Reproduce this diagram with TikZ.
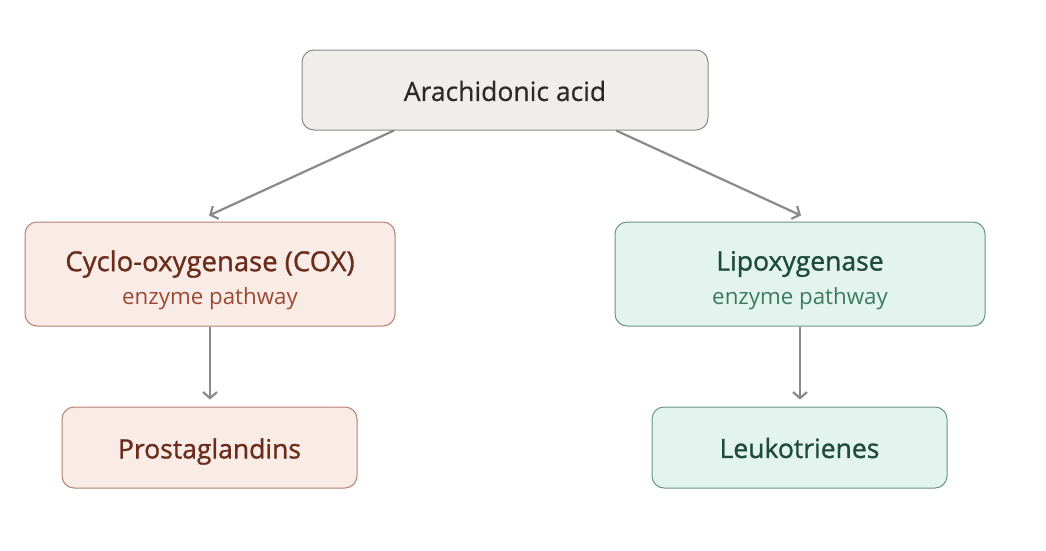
\documentclass[tikz,border=0pt]{standalone}
\usepackage{fontspec}
\setmainfont{Open Sans}
\usetikzlibrary{arrows.meta,calc}
\definecolor{topfill}{HTML}{EFEEEA}
\definecolor{topdraw}{HTML}{8A8A86}
\definecolor{toptext}{HTML}{2A2A28}
\definecolor{coxfill}{HTML}{F9ECE7}
\definecolor{coxdraw}{HTML}{B5806F}
\definecolor{coxtext}{HTML}{6A2D1B}
\definecolor{coxsub}{HTML}{9A4A32}
\definecolor{loxfill}{HTML}{E3F4EE}
\definecolor{loxdraw}{HTML}{6A9582}
\definecolor{loxtext}{HTML}{1E4B3B}
\definecolor{loxsub}{HTML}{3D7A62}
\definecolor{arrowgray}{HTML}{8A8A8A}
\tikzset{
  box/.style={rounded corners=12pt, line width=1pt, inner sep=0pt},
  conn/.style={arrowgray, line width=2.2pt, -{Straight Barb[length=6pt,width=14pt,line width=2.2pt]}},
  headtxt/.style={inner sep=0pt, font=\fontsize{26.5}{32}\selectfont\addfontfeature{FakeBold=1.1}},
  subtxt/.style={inner sep=0pt, font=\fontsize{22.3}{28}\selectfont},
}
\begin{document}
\begin{tikzpicture}[x=1pt,y=-1pt]
\useasboundingbox (0,0) rectangle (1046,550);
% top
\node[box, fill=topfill, draw=topdraw, minimum width=406pt, minimum height=80pt] (top) at (505,90) {};
\node[headtxt, text=toptext, font=\fontsize{26.5}{32}\selectfont\addfontfeature{FakeBold=0.6}] (toplbl) at ($(top.center)+(0,1)$) {Arachidonic acid};
% COX
\node[box, fill=coxfill, draw=coxdraw, minimum width=370pt, minimum height=104pt] (cox) at (210,274) {};
\node[headtxt, text=coxtext, font=\fontsize{27.5}{32}\selectfont\addfontfeature{FakeBold=1.1}] (coxlbl) at ($(cox.center)+(0,-10)$) {Cyclo-oxygenase (COX)};
\node[subtxt, text=coxsub] (coxsublbl) at ($(cox.center)+(0,25)$) {enzyme pathway};
% LOX
\node[box, fill=loxfill, draw=loxdraw, minimum width=370pt, minimum height=104pt] (lox) at (800,274) {};
\node[headtxt, text=loxtext] (loxlbl) at ($(lox.center)+(0,-10)$) {Lipoxygenase};
\node[subtxt, text=loxsub] (loxsublbl) at ($(lox.center)+(0,25)$) {enzyme pathway};
% products
\node[box, fill=coxfill, draw=coxdraw, minimum width=295pt, minimum height=81pt] (pg) at (209.5,447.5) {};
\node[headtxt, text=coxtext] (pglbl) at ($(pg.center)+(0,4)$) {Prostaglandins};
\node[box, fill=loxfill, draw=loxdraw, minimum width=295pt, minimum height=81pt] (lt) at (799.5,447.5) {};
\node[headtxt, text=loxtext] (ltlbl) at ($(lt.center)+(0,0.5)$) {Leukotrienes};
% connectors
\draw[conn] ($(top.south)+(-111,0)$) -- ($(cox.north)+(-1,-6)$);
\draw[conn] ($(top.south)+(111,0)$) -- ($(lox.north)+(1,-6)$);
\draw[conn] (cox.south) -- ($(pg.north)+(0.5,-7)$);
\draw[conn] (lox.south) -- ($(lt.north)+(0.5,-7)$);
\end{tikzpicture}
\end{document}
